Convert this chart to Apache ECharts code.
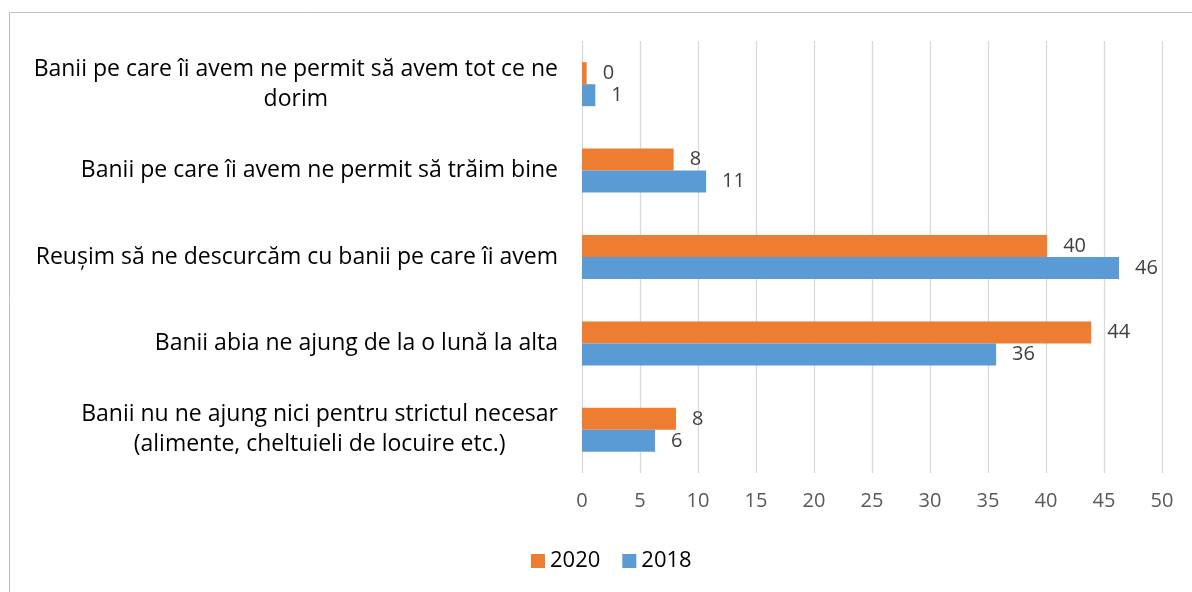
<!DOCTYPE html>
<html>
<head>
<meta charset="utf-8">
<script src="https://cdn.jsdelivr.net/npm/echarts@6/dist/echarts.min.js"></script>
<style>
  html, body { margin: 0; padding: 0; background: #fff; }
  #chart { width: 1192px; height: 592px; }
</style>
</head>
<body>
<div id="chart"></div>
<script>
var categories = [
  "Banii pe care îi avem ne permit să avem tot ce ne\ndorim",
  "Banii pe care îi avem ne permit să trăim bine",
  "Reușim să ne descurcăm cu banii pe care îi avem",
  "Banii abia ne ajung de la o lună la alta",
  "Banii nu ne ajung nici pentru strictul necesar\n(alimente, cheltuieli de locuire etc.)"
];
var values2020 = [0.4, 7.9, 40.1, 43.9, 8.1];
var values2018 = [1.15, 10.7, 46.3, 35.7, 6.3];
var seriesNames = ["2020", "2018"];

var font = "'Open Sans', sans-serif";
var chart = echarts.init(document.getElementById("chart"));

function barSeries(name, data, color) {
  return {
    name: name,
    type: "bar",
    data: data,
    barWidth: 22,
    barGap: "0%",
    itemStyle: { color: color },
    label: {
      show: true,
      position: "right",
      distance: 16,
      color: "#404040",
      fontFamily: font,
      fontSize: 20,
      formatter: function (p) { return Math.round(p.value); }
    }
  };
}

chart.setOption({
  animation: false,
  graphic: [{
    type: "rect",
    shape: { x: 9.5, y: 12.5, width: 1300, height: 700 },
    style: { fill: "none", stroke: "#c0c0c0", lineWidth: 1 },
    silent: true
  }],
  grid: { left: 582, right: 30, top: 41, bottom: 119 },
  legend: {
    data: seriesNames,
    bottom: 15,
    left: 526,
    itemWidth: 14,
    itemHeight: 14,
    itemGap: 22,
    icon: "rect",
    textStyle: { color: "#000", fontFamily: font, fontSize: 22 }
  },
  xAxis: {
    type: "value",
    min: 0,
    max: 50,
    interval: 5,
    axisLine: { show: false },
    axisTick: { show: false },
    axisLabel: { color: "#595959", fontFamily: font, fontSize: 20, margin: 18 },
    splitLine: { lineStyle: { color: "#d9d9d9", width: 1.3 } }
  },
  yAxis: {
    type: "category",
    inverse: true,
    data: categories,
    axisLine: { show: false },
    axisTick: { show: false },
    axisLabel: {
      margin: 24,
      formatter: function (v) {
        return v.split("\n").map(function (s) { return "{c|" + s + "}"; }).join("\n");
      },
      rich: {
        c: { align: "center", color: "#000", fontFamily: font, fontSize: 23, lineHeight: 30 }
      }
    }
  },
  series: [
    barSeries(seriesNames[0], values2020, "#ed7d31"),
    barSeries(seriesNames[1], values2018, "#5b9bd5")
  ]
});
</script>
</body>
</html>
